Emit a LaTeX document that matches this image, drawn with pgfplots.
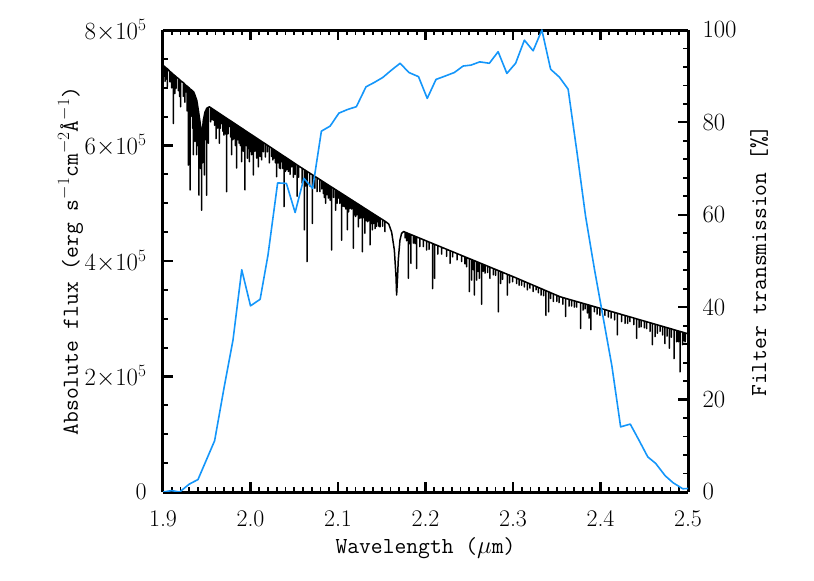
\documentclass[border=0pt]{standalone}
\usepackage{pgfplots}
\pgfplotsset{compat=1.18}
\definecolor{filt}{RGB}{20,150,250}
\begin{document}
\begin{tikzpicture}
\begin{axis}[
  scale only axis, width=525bp, height=462bp,
  xmin=1.9, xmax=2.5, ymin=0, ymax=8,
  axis y line*=left, axis x line*=box,
  xtick={1.9,2.0,2.1,2.2,2.3,2.4,2.5},
  xticklabels={1.9,2.0,2.1,2.2,2.3,2.4,2.5},
  minor x tick num=9,
  ytick={0,2,4,6,8},
  yticklabels={0,$2{\times}10^{5}$,$4{\times}10^{5}$,$6{\times}10^{5}$,$8{\times}10^{5}$},
  minor y tick num=3,
  tick align=inside,
  major tick length=10bp, minor tick length=5bp,
  axis line style={line width=3bp},
  every major tick/.append style={line width=2.2bp, black},
  every minor tick/.append style={line width=1.8bp, black},
  tick label style={font=\fontsize{24}{24}\selectfont},
  xticklabel style={yshift=-15bp},
  yticklabel style={xshift=-13bp},
  xlabel={Wavelength ($\mu$m)},
  ylabel={Absolute flux (erg s$^{-1}$cm$^{-2}$\AA$^{-1}$)},
  label style={font=\fontsize{23}{23}\ttfamily},
  xlabel style={at={(axis description cs:0.5,0)}, anchor=base, yshift=-61bp},
  ylabel style={at={(axis description cs:0,0.5)}, anchor=base, yshift=85bp},
]
\coordinate (BL) at (rel axis cs:0,0);
\addplot[black, line width=1.5bp, line join=round] coordinates {
(1.9000,7.39)
(1.9010,7.377)(1.9010,7.20)(1.9010,7.377)
(1.9023,7.36)(1.9023,7.11)(1.9023,7.36)
(1.9035,7.344)(1.9035,7.15)(1.9035,7.344)
(1.9049,7.33)(1.9049,7.02)(1.9049,7.33)
(1.9080,7.28)(1.9080,7.10)(1.9080,7.28)
(1.9100,7.259)(1.9100,7.00)(1.9100,7.259)
(1.9118,7.23)(1.9118,6.38)(1.9118,7.23)
(1.9135,7.21)(1.9135,6.90)(1.9135,7.21)
(1.9149,7.19)(1.9149,6.99)(1.9149,7.19)
(1.9175,7.16)(1.9175,6.95)(1.9175,7.16)
(1.9190,7.14)(1.9190,6.85)(1.9190,7.14)
(1.9202,7.12)(1.9202,6.67)(1.9202,7.12)
(1.9232,7.09)(1.9232,6.85)(1.9232,7.09)
(1.9250,7.06)(1.9250,6.75)(1.9250,7.06)
(1.9263,7.04)(1.9263,6.93)(1.9263,7.04)
(1.9275,7.028)(1.9275,6.60)(1.9275,7.028)
(1.9289,7.01)(1.9289,5.66)(1.9289,7.01)
(1.9300,6.996)(1.9300,6.30)(1.9300,6.996)
(1.9309,6.98)(1.9309,5.23)(1.9309,6.98)
(1.9318,6.97)(1.9318,6.50)(1.9318,6.97)
(1.9328,6.96)(1.9328,6.73)(1.9328,6.96)
(1.9338,6.946)(1.9338,6.30)(1.9338,6.946)
(1.9347,6.93)(1.9347,5.84)(1.9347,6.93)
(1.9350,6.93)
(1.9366,6.87)(1.9366,6.07)(1.9366,6.87)
(1.9375,6.83)(1.9375,6.30)(1.9375,6.83)
(1.9385,6.79)(1.9385,5.84)(1.9385,6.79)
(1.9395,6.70)(1.9395,6.00)(1.9395,6.70)
(1.9404,6.61)
(1.9411,6.54)(1.9411,5.14)(1.9411,6.54)
(1.9423,6.41)
(1.9430,6.33)(1.9430,5.60)(1.9430,6.33)
(1.9442,6.18)(1.9442,4.88)(1.9442,6.18)
(1.9452,6.30)(1.9452,5.70)(1.9452,6.30)
(1.9461,6.44)
(1.9472,6.52)(1.9472,5.49)(1.9472,6.52)
(1.9480,6.58)
(1.9490,6.61)(1.9490,6.10)(1.9490,6.61)
(1.9499,6.64)(1.9499,5.14)(1.9499,6.64)
(1.9510,6.655)(1.9510,6.30)(1.9510,6.655)
(1.9518,6.66)(1.9518,6.04)(1.9518,6.66)
(1.9530,6.67)
(1.9545,6.655)(1.9545,6.41)(1.9545,6.655)
(1.9560,6.640)(1.9560,6.45)(1.9560,6.640)
(1.9575,6.625)(1.9575,6.44)(1.9575,6.625)
(1.9590,6.610)(1.9590,6.35)(1.9590,6.610)
(1.9606,6.594)(1.9606,6.12)(1.9606,6.594)
(1.9625,6.575)(1.9625,6.30)(1.9625,6.575)
(1.9644,6.556)(1.9644,6.04)(1.9644,6.556)
(1.9657,6.543)(1.9657,6.30)(1.9657,6.543)
(1.9670,6.529)(1.9670,6.38)(1.9670,6.529)
(1.9683,6.516)(1.9683,6.25)(1.9683,6.516)
(1.9697,6.502)(1.9697,6.18)(1.9697,6.502)
(1.9712,6.487)(1.9712,6.20)(1.9712,6.487)
(1.9728,6.471)(1.9728,5.20)(1.9728,6.471)
(1.9743,6.456)(1.9743,6.20)(1.9743,6.456)
(1.9758,6.441)(1.9758,6.33)(1.9758,6.441)
(1.9772,6.427)(1.9772,6.15)(1.9772,6.427)
(1.9785,6.414)(1.9785,5.84)(1.9785,6.414)
(1.9798,6.401)(1.9798,6.10)(1.9798,6.401)
(1.9811,6.388)(1.9811,6.12)(1.9811,6.388)
(1.9826,6.373)(1.9826,6.00)(1.9826,6.373)
(1.9842,6.357)(1.9842,5.61)(1.9842,6.357)
(1.9855,6.344)(1.9855,6.10)(1.9855,6.344)
(1.9869,6.330)(1.9869,6.04)(1.9869,6.330)
(1.9884,6.315)(1.9884,6.00)(1.9884,6.315)
(1.9899,6.300)(1.9899,5.72)(1.9899,6.300)
(1.9918,6.281)(1.9918,5.90)(1.9918,6.281)
(1.9937,6.261)(1.9937,5.23)(1.9937,6.261)
(1.9950,6.248)(1.9950,6.00)(1.9950,6.248)
(1.9964,6.234)(1.9964,5.78)(1.9964,6.234)
(1.9976,6.222)(1.9976,5.95)(1.9976,6.222)
(1.9987,6.211)(1.9987,5.72)(1.9987,6.211)
(2.0000,6.198)(2.0000,5.90)(2.0000,6.198)
(2.0013,6.185)(2.0013,5.84)(2.0013,6.185)
(2.0022,6.176)(2.0022,5.95)(2.0022,6.176)
(2.0032,6.166)(2.0032,5.49)(2.0032,6.166)
(2.0050,6.148)(2.0050,5.90)(2.0050,6.148)
(2.0071,6.127)(2.0071,5.78)(2.0071,6.127)
(2.0080,6.118)(2.0080,5.85)(2.0080,6.118)
(2.0089,6.109)(2.0089,5.63)(2.0089,6.109)
(2.0100,6.098)(2.0100,5.95)(2.0100,6.098)
(2.0109,6.089)(2.0109,5.81)(2.0109,6.089)
(2.0128,6.070)(2.0128,5.75)(2.0128,6.070)
(2.0147,6.051)(2.0147,5.89)(2.0147,6.051)
(2.0170,6.028)(2.0170,5.80)(2.0170,6.028)
(2.0192,6.006)(2.0192,5.89)(2.0192,6.006)
(2.0215,5.983)(2.0215,5.70)(2.0215,5.983)
(2.0242,5.955)(2.0242,5.81)(2.0242,5.955)
(2.0255,5.942)(2.0255,5.75)(2.0255,5.942)
(2.0269,5.928)(2.0269,5.78)(2.0269,5.928)
(2.0284,5.913)(2.0284,5.70)(2.0284,5.913)
(2.0299,5.898)(2.0299,5.46)(2.0299,5.898)
(2.0314,5.883)(2.0314,5.70)(2.0314,5.883)
(2.0329,5.868)(2.0329,5.61)(2.0329,5.868)
(2.0343,5.854)(2.0343,5.60)(2.0343,5.854)
(2.0357,5.840)(2.0357,5.72)(2.0357,5.840)
(2.0370,5.827)(2.0370,5.60)(2.0370,5.827)
(2.0383,5.814)(2.0383,4.94)(2.0383,5.814)
(2.0398,5.799)(2.0398,5.55)(2.0398,5.799)
(2.0413,5.784)(2.0413,5.58)(2.0413,5.784)
(2.0432,5.765)(2.0432,5.55)(2.0432,5.765)
(2.0452,5.745)(2.0452,5.50)(2.0452,5.745)
(2.0471,5.725)(2.0471,5.63)(2.0471,5.725)
(2.0490,5.707)(2.0490,5.45)(2.0490,5.707)
(2.0510,5.687)(2.0510,5.50)(2.0510,5.687)
(2.0533,5.662)(2.0533,5.12)(2.0533,5.662)
(2.0550,5.646)(2.0550,5.45)(2.0550,5.646)
(2.0566,5.630)
(2.0590,5.607)(2.0590,5.35)(2.0590,5.607)
(2.0615,5.582)(2.0615,4.54)(2.0615,5.582)
(2.0630,5.568)(2.0630,5.30)(2.0630,5.568)
(2.0646,5.552)(2.0646,3.99)(2.0646,5.552)
(2.0675,5.524)(2.0675,5.30)(2.0675,5.524)
(2.0707,5.493)(2.0707,4.65)(2.0707,5.493)
(2.0720,5.481)(2.0720,5.30)(2.0720,5.481)
(2.0736,5.465)(2.0736,5.26)(2.0736,5.465)
(2.0760,5.442)(2.0760,5.20)(2.0760,5.442)
(2.0794,5.409)(2.0794,5.20)(2.0794,5.409)
(2.0815,5.388)(2.0815,5.25)(2.0815,5.388)
(2.0832,5.372)(2.0832,5.17)(2.0832,5.372)
(2.0845,5.359)(2.0845,5.10)(2.0845,5.359)
(2.0859,5.346)(2.0859,5.00)(2.0859,5.346)
(2.0875,5.330)(2.0875,5.15)(2.0875,5.330)
(2.0889,5.317)(2.0889,5.09)(2.0889,5.317)
(2.0910,5.296)(2.0910,5.05)(2.0910,5.296)
(2.0928,5.279)(2.0928,4.19)(2.0928,5.279)
(2.0950,5.258)(2.0950,5.10)(2.0950,5.258)
(2.0973,5.235)(2.0973,4.88)(2.0973,5.235)
(2.0990,5.219)(2.0990,5.00)(2.0990,5.219)
(2.1003,5.206)(2.1003,5.09)(2.1003,5.206)
(2.1020,5.190)(2.1020,5.00)(2.1020,5.190)
(2.1042,5.168)(2.1042,4.36)(2.1042,5.168)
(2.1058,5.153)(2.1058,4.95)(2.1058,5.153)
(2.1072,5.139)(2.1072,4.94)(2.1072,5.139)
(2.1090,5.122)(2.1090,4.90)(2.1090,5.122)
(2.1107,5.105)(2.1107,4.54)(2.1107,5.105)
(2.1120,5.093)(2.1120,4.85)(2.1120,5.093)
(2.1136,5.077)(2.1136,4.91)(2.1136,5.077)
(2.1155,5.059)(2.1155,4.90)(2.1155,5.059)
(2.1175,5.039)(2.1175,4.22)(2.1175,5.039)
(2.1190,5.025)(2.1190,4.80)(2.1190,5.025)
(2.1202,5.013)(2.1202,4.77)(2.1202,5.013)
(2.1215,5.001)(2.1215,4.80)(2.1215,5.001)
(2.1232,4.984)(2.1232,4.59)(2.1232,4.984)
(2.1251,4.966)(2.1251,4.74)(2.1251,4.966)
(2.1265,4.952)(2.1265,4.75)(2.1265,4.952)
(2.1278,4.939)(2.1278,4.16)(2.1278,4.939)
(2.1295,4.923)(2.1295,4.75)(2.1295,4.923)
(2.1308,4.910)(2.1308,4.48)(2.1308,4.910)
(2.1322,4.897)(2.1322,4.70)(2.1322,4.897)
(2.1339,4.880)(2.1339,4.68)(2.1339,4.880)
(2.1352,4.868)(2.1352,4.70)(2.1352,4.868)
(2.1366,4.854)(2.1366,4.28)(2.1366,4.854)
(2.1378,4.842)(2.1378,4.65)(2.1378,4.842)
(2.1392,4.829)(2.1392,4.54)(2.1392,4.829)
(2.1408,4.813)(2.1408,4.65)(2.1408,4.813)
(2.1423,4.799)(2.1423,4.56)(2.1423,4.799)
(2.1440,4.782)(2.1440,4.60)(2.1440,4.782)
(2.1453,4.770)(2.1453,4.68)(2.1453,4.770)
(2.1468,4.755)(2.1468,4.60)(2.1468,4.755)
(2.1480,4.744)(2.1480,4.59)(2.1480,4.744)
(2.1510,4.715)(2.1510,4.60)(2.1510,4.715)
(2.1537,4.689)(2.1537,4.51)(2.1537,4.689)
(2.1550,4.675)(2.1580,4.64)(2.1613,4.50)(2.1644,4.19)(2.1663,3.73)(2.1670,3.41)
(2.1680,3.70)(2.1689,4.02)(2.1708,4.36)(2.1727,4.48)(2.1750,4.51)
(2.1766,4.500)(2.1766,4.40)(2.1766,4.500)
(2.1785,4.488)(2.1785,4.35)(2.1785,4.488)
(2.1804,4.476)(2.1804,3.70)(2.1804,4.476)
(2.1820,4.466)(2.1820,4.30)(2.1820,4.466)
(2.1834,4.458)(2.1834,3.96)(2.1834,4.458)
(2.1861,4.441)(2.1861,4.31)(2.1861,4.441)
(2.1880,4.429)(2.1880,4.30)(2.1880,4.429)
(2.1899,4.417)(2.1899,3.87)(2.1899,4.417)
(2.1935,4.395)(2.1935,4.25)(2.1935,4.395)
(2.1975,4.370)(2.1975,4.25)(2.1975,4.370)
(2.2013,4.346)(2.2013,4.19)(2.2013,4.346)
(2.2040,4.329)(2.2040,4.20)(2.2040,4.329)
(2.2080,4.304)(2.2080,3.52)(2.2080,4.304)
(2.2105,4.288)(2.2105,3.70)(2.2105,4.288)
(2.2140,4.267)(2.2140,4.12)(2.2140,4.267)
(2.2185,4.238)(2.2185,4.12)(2.2185,4.238)
(2.2240,4.204)(2.2240,4.08)(2.2240,4.204)
(2.2280,4.179)(2.2280,3.96)(2.2280,4.179)
(2.2311,4.160)(2.2311,4.07)(2.2311,4.160)
(2.2360,4.129)(2.2360,4.02)(2.2360,4.129)
(2.2413,4.096)(2.2413,3.99)(2.2413,4.096)
(2.2451,4.072)(2.2451,3.95)(2.2451,4.072)
(2.2470,4.060)(2.2470,3.90)(2.2470,4.060)
(2.2501,4.041)(2.2501,3.47)(2.2501,4.041)
(2.2528,4.025)(2.2528,3.67)(2.2528,4.025)
(2.2545,4.014)(2.2545,3.85)(2.2545,4.014)
(2.2558,4.006)(2.2558,3.41)(2.2558,4.006)
(2.2585,3.989)(2.2585,3.67)(2.2585,3.989)
(2.2600,3.980)(2.2600,3.82)(2.2600,3.980)
(2.2615,3.970)(2.2615,3.70)(2.2615,3.970)
(2.2642,3.953)(2.2642,3.25)(2.2642,3.953)
(2.2660,3.942)(2.2660,3.82)(2.2660,3.942)
(2.2680,3.930)(2.2680,3.79)(2.2680,3.930)
(2.2710,3.911)(2.2710,3.80)(2.2710,3.911)
(2.2737,3.894)(2.2737,3.70)(2.2737,3.894)
(2.2775,3.870)(2.2775,3.76)(2.2775,3.870)
(2.2800,3.855)(2.2800,3.75)(2.2800,3.855)
(2.2832,3.835)(2.2832,3.12)(2.2832,3.835)
(2.2859,3.818)(2.2859,3.61)(2.2859,3.818)
(2.2880,3.805)(2.2880,3.68)(2.2880,3.805)
(2.2935,3.770)(2.2935,3.41)(2.2935,3.770)
(2.2960,3.755)(2.2960,3.62)(2.2960,3.755)
(2.2996,3.732)(2.2996,3.64)(2.2996,3.732)
(2.3000,3.730)
(2.3042,3.703)(2.3042,3.61)(2.3042,3.703)
(2.3070,3.685)(2.3070,3.58)(2.3070,3.685)
(2.3099,3.666)(2.3099,3.58)(2.3099,3.666)
(2.3130,3.646)(2.3130,3.55)(2.3130,3.646)
(2.3164,3.624)(2.3164,3.50)(2.3164,3.624)
(2.3194,3.604)(2.3194,3.53)(2.3194,3.604)
(2.3230,3.581)(2.3230,3.47)(2.3230,3.581)
(2.3263,3.560)(2.3263,3.50)(2.3263,3.560)
(2.3290,3.542)(2.3290,3.45)(2.3290,3.542)
(2.3320,3.523)(2.3320,3.41)(2.3320,3.523)
(2.3350,3.503)(2.3350,3.40)(2.3350,3.503)
(2.3377,3.486)(2.3377,3.06)(2.3377,3.486)
(2.3408,3.466)(2.3408,3.12)(2.3408,3.466)
(2.3430,3.451)(2.3430,3.35)(2.3430,3.451)
(2.3461,3.431)(2.3461,3.30)(2.3461,3.431)
(2.3500,3.406)(2.3500,3.30)(2.3500,3.406)
(2.3526,3.389)(2.3526,3.28)(2.3526,3.389)
(2.3540,3.380)
(2.3570,3.367)(2.3570,3.25)(2.3570,3.367)
(2.3602,3.353)(2.3602,3.04)(2.3602,3.353)
(2.3640,3.336)(2.3640,3.22)(2.3640,3.336)
(2.3670,3.323)(2.3670,3.22)(2.3670,3.323)
(2.3700,3.310)(2.3700,3.20)(2.3700,3.310)
(2.3728,3.298)(2.3728,3.20)(2.3728,3.298)
(2.3773,3.279)(2.3773,2.83)(2.3773,3.279)
(2.3800,3.267)(2.3800,3.15)(2.3800,3.267)
(2.3823,3.257)(2.3823,3.17)(2.3823,3.257)
(2.3850,3.245)(2.3850,3.10)(2.3850,3.245)
(2.3869,3.237)(2.3869,3.01)(2.3869,3.237)
(2.3891,3.227)(2.3891,2.81)(2.3891,3.227)
(2.3930,3.210)(2.3930,3.12)(2.3930,3.210)
(2.3960,3.197)(2.3960,3.08)(2.3960,3.197)
(2.3994,3.183)(2.3994,3.06)(2.3994,3.183)
(2.4000,3.180)
(2.4051,3.158)(2.4051,3.06)(2.4051,3.158)
(2.4090,3.140)(2.4090,3.03)(2.4090,3.140)
(2.4120,3.127)(2.4120,3.01)(2.4120,3.127)
(2.4160,3.110)(2.4160,2.98)(2.4160,3.110)
(2.4192,3.096)(2.4192,2.72)(2.4192,3.096)
(2.4240,3.074)(2.4240,2.95)(2.4240,3.074)
(2.4280,3.057)(2.4280,2.92)(2.4280,3.057)
(2.4310,3.044)(2.4310,2.92)(2.4310,3.044)
(2.4337,3.032)(2.4337,2.95)(2.4337,3.032)
(2.4380,3.013)(2.4380,2.90)(2.4380,3.013)
(2.4413,2.998)(2.4413,2.66)(2.4413,2.998)
(2.4440,2.986)(2.4440,2.85)(2.4440,2.986)
(2.4463,2.976)(2.4463,2.86)(2.4463,2.976)
(2.4500,2.960)(2.4500,2.84)(2.4500,2.960)
(2.4528,2.948)(2.4528,2.83)(2.4528,2.948)
(2.4566,2.931)(2.4566,2.78)(2.4566,2.931)
(2.4592,2.920)(2.4592,2.55)(2.4592,2.920)
(2.4623,2.906)(2.4623,2.69)(2.4623,2.906)
(2.4650,2.894)(2.4650,2.75)(2.4650,2.894)
(2.4680,2.881)(2.4680,2.78)(2.4680,2.881)
(2.4710,2.868)(2.4710,2.72)(2.4710,2.868)
(2.4737,2.856)(2.4737,2.57)(2.4737,2.856)
(2.4760,2.846)(2.4760,2.70)(2.4760,2.846)
(2.4787,2.834)(2.4787,2.49)(2.4787,2.834)
(2.4810,2.824)(2.4810,2.68)(2.4810,2.824)
(2.4840,2.810)(2.4840,2.31)(2.4840,2.810)
(2.4870,2.797)(2.4870,2.60)(2.4870,2.797)
(2.4890,2.788)(2.4890,2.60)(2.4890,2.788)
(2.4909,2.780)(2.4909,2.08)(2.4909,2.780)
(2.4939,2.767)(2.4939,2.55)(2.4939,2.767)
(2.4955,2.760)(2.4955,2.62)(2.4955,2.760)
(2.4966,2.755)(2.4966,2.60)(2.4966,2.755)
(2.4997,2.741)(2.4997,2.63)(2.4997,2.741)
(2.5000,2.740)
};
\end{axis}
\begin{axis}[
  scale only axis, width=525bp, height=462bp,
  xmin=1.9, xmax=2.5, ymin=0, ymax=100,
  axis y line*=right, axis x line=none,
  ytick={0,20,40,60,80,100},
  minor y tick num=4,
  tick align=inside,
  major tick length=10bp, minor tick length=5bp,
  axis line style={line width=3bp},
  every major tick/.append style={line width=2.2bp, black},
  every minor tick/.append style={line width=1.8bp, black},
  tick label style={font=\fontsize{24}{24}\selectfont},
  yticklabel style={xshift=11bp},
  ylabel={Filter transmission [\%]},
  label style={font=\fontsize{23}{23}\ttfamily},
  ylabel style={at={(axis description cs:1,0.5)}, anchor=base, yshift=-78bp},
]
\addplot[filt, line width=1.6bp, line join=round] coordinates {
(1.900,0.0)(1.910,0.3)(1.919,0.0)(1.930,1.7)(1.940,2.7)(1.959,11.1)(1.970,22.8)
(1.980,32.9)(1.990,48.1)(2.000,40.3)(2.011,41.7)(2.020,51.3)(2.031,66.9)(2.041,66.8)
(2.051,60.5)(2.061,67.9)(2.071,65.7)(2.081,78.1)(2.091,79.2)(2.101,82.0)(2.111,82.8)
(2.121,83.4)(2.132,87.7)(2.141,88.6)(2.151,89.7)(2.161,91.3)(2.171,92.8)(2.181,90.8)
(2.192,89.9)(2.202,85.2)(2.212,89.3)(2.222,90.0)(2.233,90.8)(2.243,92.2)(2.252,92.4)
(2.262,93.1)(2.273,92.8)(2.283,95.3)(2.293,90.6)(2.303,92.8)(2.313,97.8)(2.323,95.5)
(2.333,100.0)(2.343,91.5)(2.353,89.8)(2.363,87.2)(2.373,73.7)(2.383,59.6)(2.393,48.3)
(2.403,37.8)(2.413,27.3)(2.423,14.1)(2.434,14.7)(2.444,11.2)(2.454,7.6)(2.463,6.2)
(2.474,3.5)(2.483,2.0)(2.494,0.7)(2.504,0.8)
};
\end{axis}
\path (BL) ++(-163bp,-89bp) rectangle ++(814bp,581bp);
\end{tikzpicture}
\end{document}
